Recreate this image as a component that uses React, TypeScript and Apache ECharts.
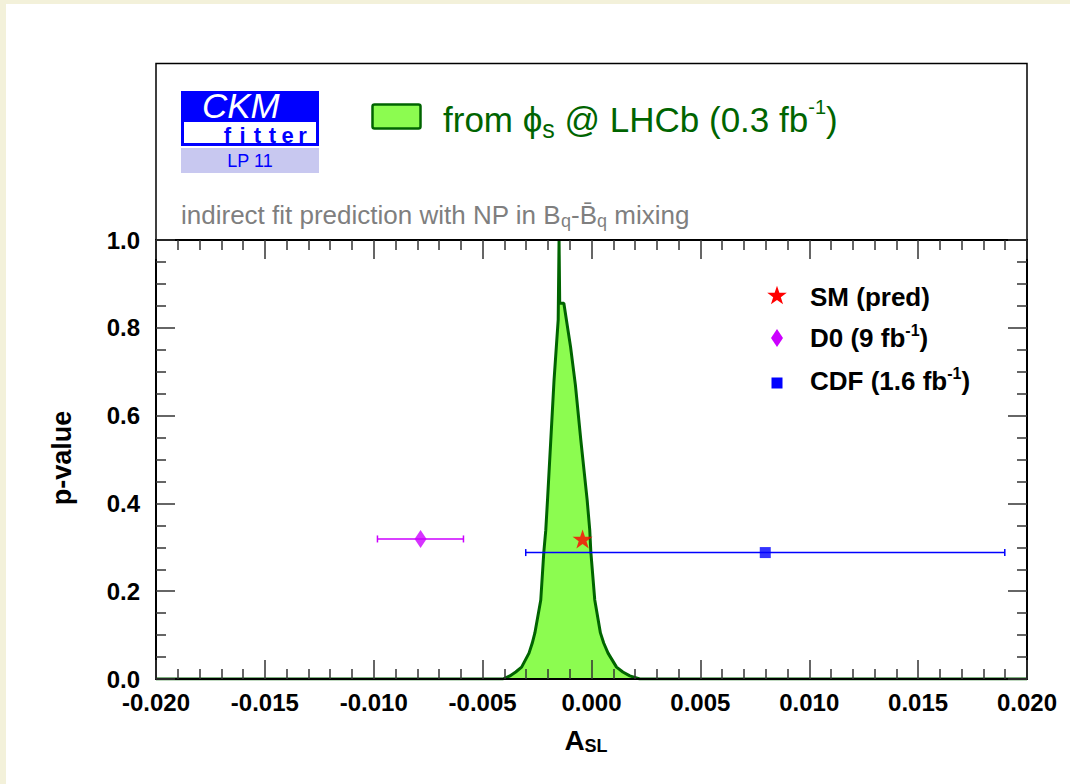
import React, { useEffect, useRef } from "react";
import * as echarts from "echarts";

// p-value profile of A_SL from phi_s (LHCb 0.3 fb^-1)
const pvalX = [
  -0.02, -0.00407, -0.00375, -0.00348, -0.00321, -0.00287, -0.00272, -0.0026, -0.00233,
  -0.00219, -0.0021, -0.00202, -0.00187, -0.00172, -0.00153, -0.00149, -0.00146, -0.00127,
  -0.00096, -0.00074, -0.00049, -0.0002, -0.00008, -0.00003, 0.00015, 0.00041, 0.00056,
  0.00076, 0.00115, 0.00144, 0.00176, 0.00222, 0.02,
];
const pvalY = [
  0, 0, 0.007, 0.016, 0.027, 0.059, 0.082, 0.105, 0.18, 0.289, 0.339, 0.408, 0.544, 0.681,
  0.818, 1.0, 0.856, 0.856, 0.756, 0.67, 0.544, 0.408, 0.339, 0.289, 0.18, 0.105, 0.082,
  0.059, 0.027, 0.016, 0.007, 0, 0,
];

// Points with horizontal uncertainties: [value, p-value]
const smPred = [-0.00041, 0.319];
const d0Meas = [-0.00785, 0.319];
const d0Range = [-0.00983, -0.00588];
const cdfMeas = [0.00798, 0.288];
const cdfRange = [-0.00302, 0.01898];

// Axis ranges
const xRange = [-0.02, 0.02];
const xStep = 0.005;
const yRange = [0, 1];
const yStep = 0.2;

const FONT = "'Liberation Sans', Arial, Helvetica, sans-serif";
const GREEN_LINE = "#006400";
const GREEN_FILL = "#8cfc50";
const D0_COLOR = "#cc00ff";
const CDF_COLOR = "#0000ff";

const STAR_D = "M50,0L61.8,35.2L98.9,35.5L69.1,57.6L80.3,93L50,71.5L19.7,93L30.9,57.6L1.1,35.5L38.2,35.2Z";

let starRegistered = false;
function registerStar() {
  if (starRegistered) return;
  echarts.graphic.registerShape("starIcon", echarts.graphic.extendPath(STAR_D, {}) as any);
  starRegistered = true;
}

const tickStyle = { color: "#333", width: 1.5 };

function makeX(position: "bottom" | "top", showLabels: boolean) {
  return {
    type: "value",
    position,
    min: xRange[0],
    max: xRange[1],
    interval: xStep,
    z: 5,
    axisLine: { show: true, onZero: false, lineStyle: { color: "#000", width: 2 } },
    axisTick: { show: true, inside: true, length: 19, lineStyle: tickStyle },
    minorTick: { show: true, splitNumber: 5, length: 10, lineStyle: tickStyle },
    splitLine: { show: false },
    axisLabel: {
      show: showLabels,
      margin: 11,
      color: "#000",
      fontFamily: FONT,
      fontWeight: "bold",
      fontSize: 24,
      formatter: (v: number) => (Math.abs(v) < 1e-10 ? "0.000" : v.toFixed(3)),
    },
  };
}

function makeY(position: "left" | "right", showLabels: boolean) {
  return {
    type: "value",
    position,
    min: yRange[0],
    max: yRange[1],
    interval: yStep,
    z: 5,
    axisLine: { show: true, onZero: false, lineStyle: { color: "#000", width: 2 } },
    axisTick: { show: true, inside: true, length: 19, lineStyle: tickStyle },
    minorTick: { show: true, splitNumber: 4, length: 10, lineStyle: tickStyle },
    splitLine: { show: false },
    axisLabel: {
      show: showLabels,
      margin: 16,
      color: "#000",
      fontFamily: FONT,
      fontWeight: "bold",
      fontSize: 24,
      formatter: (v: number) => v.toFixed(1),
    },
  };
}

function errorBarItem(params: any, api: any) {
  const y = api.value(1);
  const a = api.coord([api.value(2), y]);
  const b = api.coord([api.value(3), y]);
  const color = api.visual("color");
  const cap = 3.5;
  const st = { stroke: color, lineWidth: 1.5 };
  return {
    type: "group",
    children: [
      { type: "line", shape: { x1: a[0], y1: a[1], x2: b[0], y2: b[1] }, style: st },
      { type: "line", shape: { x1: a[0], y1: a[1] - cap, x2: a[0], y2: a[1] + cap }, style: st },
      { type: "line", shape: { x1: b[0], y1: b[1] - cap, x2: b[0], y2: b[1] + cap }, style: st },
    ],
  };
}

function buildOption() {
  const curve = pvalX.map((x, i) => [x, pvalY[i]]);
  const supStyle = (size: number, bold: boolean, lh: number) => ({
    fontSize: size,
    fontFamily: FONT,
    fontWeight: bold ? "bold" : "normal",
    lineHeight: lh,
    verticalAlign: "top",
  });
  // subscript lowered through top padding of its fragment box
  const subStyle = (size: number, bold: boolean, lh: number, drop: number) => ({
    fontSize: size,
    fontFamily: FONT,
    fontWeight: bold ? "bold" : "normal",
    lineHeight: lh,
    padding: [drop, 0, 0, 0],
  });

  const legendText = (label: string, y: number) => ({
    type: "text",
    style: {
      text: label,
      x: 810,
      y,
      verticalAlign: "middle",
      fill: "#000",
      fontSize: 26,
      fontWeight: "bold",
      fontFamily: FONT,
      lineHeight: 32,
      rich: {
        m: { fontSize: 26, fontWeight: "bold", fontFamily: FONT, lineHeight: 32 },
        sup: supStyle(16, true, 6),
      },
    },
  });

  return {
    animation: false,
    textStyle: { fontFamily: FONT },
    grid: { left: 156, right: 43, top: 240, bottom: 105 },
    xAxis: [makeX("bottom", true), makeX("top", false)],
    yAxis: [makeY("left", true), makeY("right", false)],
    series: [
      {
        type: "line",
        name: "from phi_s @ LHCb",
        data: curve,
        symbol: "none",
        smooth: false,
        z: 2,
        lineStyle: { color: GREEN_LINE, width: 3 },
        areaStyle: { color: GREEN_FILL, opacity: 1 },
      },
      {
        type: "custom",
        name: "D0 range",
        renderItem: errorBarItem,
        encode: { x: [0, 2, 3], y: 1 },
        itemStyle: { color: D0_COLOR },
        data: [[d0Meas[0], d0Meas[1], d0Range[0], d0Range[1]]],
        z: 3,
      },
      {
        type: "custom",
        name: "CDF range",
        renderItem: errorBarItem,
        encode: { x: [0, 2, 3], y: 1 },
        itemStyle: { color: CDF_COLOR },
        data: [[cdfMeas[0], cdfMeas[1], cdfRange[0], cdfRange[1]]],
        z: 3,
      },
      {
        type: "scatter",
        name: "SM (pred)",
        symbol: "path://" + STAR_D,
        symbolSize: [20, 19],
        itemStyle: { color: "#ff0000" },
        data: [smPred],
        z: 4,
      },
      {
        type: "scatter",
        name: "D0",
        symbol: "diamond",
        symbolSize: [12, 18],
        itemStyle: { color: D0_COLOR },
        data: [d0Meas],
        z: 4,
      },
      {
        type: "scatter",
        name: "CDF",
        symbol: "rect",
        symbolSize: 11,
        itemStyle: { color: CDF_COLOR },
        data: [cdfMeas],
        z: 4,
      },
    ],
    graphic: [
      // header frame above the plot
      {
        type: "rect",
        shape: { x: 156, y: 63.5, width: 871, height: 176.5 },
        style: { fill: "none", stroke: "#000", lineWidth: 1.5 },
      },
      // CKMfitter logo
      { type: "rect", shape: { x: 181, y: 91, width: 138, height: 55 }, style: { fill: "#0000ff" } },
      { type: "rect", shape: { x: 184, y: 122, width: 132, height: 21 }, style: { fill: "#ffffff" } },
      { type: "rect", shape: { x: 181, y: 148, width: 138, height: 25 }, style: { fill: "#c8c8f0" } },
      {
        type: "text",
        style: {
          text: "CKM",
          x: 202,
          y: 105,
          verticalAlign: "middle",
          fill: "#ffffff",
          fontSize: 35,
          fontStyle: "italic",
          fontFamily: FONT,
        },
      },
      {
        type: "text",
        style: {
          text: "{c|f}{c|i}{c|t}{c|t}{c|e}{c|r}",
          x: 220,
          y: 135.5,
          verticalAlign: "middle",
          fill: "#0000ff",
          fontSize: 22,
          fontWeight: "bold",
          fontFamily: FONT,
          rich: {
            c: { width: 15, align: "center", fontSize: 22, fontWeight: "bold", fontFamily: FONT },
          },
        },
      },
      {
        type: "text",
        style: {
          text: "LP 11",
          x: 250,
          y: 160.8,
          align: "center",
          verticalAlign: "middle",
          fill: "#0000ff",
          fontSize: 18,
          fontFamily: FONT,
        },
      },
      // header legend
      {
        type: "rect",
        shape: { x: 372.5, y: 104.5, width: 48, height: 24, r: 2 },
        style: { fill: GREEN_FILL, stroke: GREEN_LINE, lineWidth: 2.5 },
      },
      {
        type: "text",
        style: {
          text: "{m|from \u03d5}{sub|s}{m| @ LHCb (0.3 fb}{sup|-1}{m|)}",
          x: 443,
          y: 119,
          verticalAlign: "middle",
          fill: GREEN_LINE,
          fontSize: 35,
          fontFamily: FONT,
          rich: {
            m: { fontSize: 35, fontFamily: FONT, lineHeight: 44 },
            sub: subStyle(25, false, 20, 20),
            sup: supStyle(20, false, 6),
          },
        },
      },
      // subtitle
      {
        type: "text",
        style: {
          text: "{m|indirect fit prediction with NP in B}{sub|q}{m|-B\u0304}{sub|q}{m| mixing}",
          x: 181,
          y: 215,
          verticalAlign: "middle",
          fill: "#7f7f7f",
          fontSize: 26,
          fontFamily: FONT,
          rich: {
            m: { fontSize: 26, fontFamily: FONT, lineHeight: 30 },
            sub: subStyle(18, false, 18, 12),
          },
        },
      },
      // right-hand legend
      {
        type: "starIcon",
        x: 767,
        y: 285.7,
        scaleX: 0.2,
        scaleY: 0.2,
        style: { fill: "#ff0000" },
      },
      legendText("{m|SM (pred)}", 297),
      {
        type: "polygon",
        shape: { points: [[777, 329], [783, 338], [777, 347], [771, 338]] },
        style: { fill: D0_COLOR },
      },
      legendText("{m|D0 (9 fb}{sup|-1}{m|)}", 338),
      {
        type: "rect",
        shape: { x: 771.5, y: 377.5, width: 11, height: 11 },
        style: { fill: CDF_COLOR },
      },
      legendText("{m|CDF (1.6 fb}{sup|-1}{m|)}", 381),
      // axis titles
      {
        type: "text",
        rotation: Math.PI / 2,
        x: 62,
        y: 458,
        style: {
          text: "p-value",
          x: 0,
          y: 0,
          align: "center",
          verticalAlign: "middle",
          fill: "#000",
          fontSize: 27,
          fontWeight: "bold",
          fontFamily: FONT,
        },
      },
      {
        type: "text",
        style: {
          text: "{m|A}{sub|SL}",
          x: 586,
          y: 740,
          align: "center",
          verticalAlign: "middle",
          fill: "#000",
          fontSize: 28,
          fontWeight: "bold",
          fontFamily: FONT,
          rich: {
            m: { fontSize: 28, fontWeight: "bold", fontFamily: FONT, lineHeight: 34 },
            sub: subStyle(18, true, 18, 12),
          },
        },
      },
    ],
  };
}

export default function App() {
  const ref = useRef<HTMLDivElement>(null);

  useEffect(() => {
    if (!ref.current) return;
    registerStar();
    const chart = echarts.init(ref.current, undefined, { renderer: "svg" });
    chart.setOption(buildOption() as any);
    return () => chart.dispose();
  }, []);

  return (
    <div
      style={{
        position: "absolute",
        left: 0,
        top: 0,
        width: 1070,
        height: 784,
        background: "#f3f1da",
        overflow: "hidden",
      }}
    >
      <div
        style={{
          position: "absolute",
          left: 6,
          top: 4,
          right: 0,
          bottom: 0,
          background: "#ffffff",
        }}
      />
      <div ref={ref} style={{ position: "absolute", left: 0, top: 0, width: 1070, height: 784 }} />
    </div>
  );
}
